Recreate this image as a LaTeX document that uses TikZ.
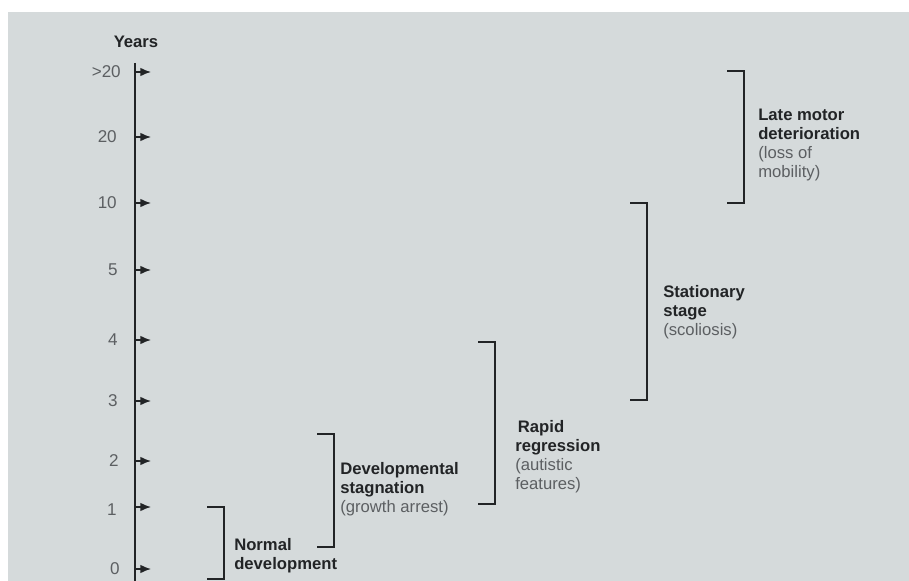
\documentclass[tikz,border=0pt]{standalone}
\usepackage{fontspec}
\setmainfont{Liberation Sans}
\usepackage{xcolor}
\usetikzlibrary{arrows.meta, positioning}
\definecolor{panel}{RGB}{213,218,219}
\definecolor{ink}{RGB}{34,36,38}
\definecolor{soft}{RGB}{92,95,98}

\begin{document}
\begin{tikzpicture}[x=0.75pt, y=-0.75pt]
		\tikzset{
			tick/.style={-{Latex[length=8pt,width=6.5pt]}, line width=1.1pt, ink},
			axisline/.style={line width=1.5pt, ink},
			bracket/.style={line width=1.4pt, ink},
			yearlbl/.style={anchor=east, inner sep=0pt, text=soft, font=\fontsize{12.8}{14}\selectfont},
			phase/.style={anchor=west, align=left, inner sep=0pt, text=ink, font=\fontsize{12.5}{14.2}\selectfont}
		}
		\useasboundingbox (0,0) rectangle (909,581);
		\fill[white] (0,0) rectangle (909,581);
		\fill[panel] (8,12) rectangle (909,581);

		% time axis
		\node[text=ink, font=\fontsize{12.5}{14}\selectfont\bfseries](years) at (136,42){Years};
		\coordinate (axtop) at (135,63);
		\coordinate (axbot) at (135,581);
		\draw[axisline](axtop) -- (axbot);

		\node[yearlbl](ymore) at (121,72){>20};
		\node[yearlbl](ytwenty) at (117,137){20};
		\node[yearlbl](yten) at (117,203){10};
		\node[yearlbl](yfive) at (118,270){5};
		\node[yearlbl](yfour) at (118,340){4};
		\node[yearlbl](ythree) at (118,401){3};
		\node[yearlbl](ytwo) at (119,461){2};
		\node[yearlbl](yone) at (117,510){1};
		\node[yearlbl](yzero) at (120,569){0};

		\coordinate (tmore) at (151,72);
		\coordinate (ttwenty) at (151,137);
		\coordinate (tten) at (151,203);
		\coordinate (tfive) at (151,270);
		\coordinate (tfour) at (151,340);
		\coordinate (tthree) at (151,401);
		\coordinate (ttwo) at (151,461);
		\coordinate (tone) at (151,507);
		\coordinate (tzero) at (151,569);

		\draw[tick](ymore -| axtop) -- (tmore);
		\draw[tick](ttwenty -| axtop) -- (ttwenty);
		\draw[tick](tten -| axtop) -- (tten);
		\draw[tick](tfive -| axtop) -- (tfive);
		\draw[tick](tfour -| axtop) -- (tfour);
		\draw[tick](tthree -| axtop) -- (tthree);
		\draw[tick](ttwo -| axtop) -- (ttwo);
		\draw[tick](tone -| axtop) -- (tone);
		\draw[tick](tzero -| axtop) -- (tzero);

		% stages
		\coordinate (normtop) at (207,507);
		\coordinate (normbot) at (207,579);
		\draw[bracket](normtop) -- ++(17,0) |- (normbot);
		\node[phase](normal) at (234,556){\textbf{Normal}\\\textbf{development}};

		\coordinate (stagtop) at (317,434);
		\coordinate (stagbot) at (317,547);
		\draw[bracket](stagtop) -- ++(17,0) |- (stagbot);
		\node[phase](stagnation) at (340,489){\textbf{Developmental}\\\textbf{stagnation}\\\textcolor{soft}{(growth arrest)}};

		\coordinate (regrtop) at (478,342);
		\coordinate (regrbot) at (478,504);
		\draw[bracket](regrtop) -- ++(17,0) |- (regrbot);
		\node[phase](regression) at (515,457){\hspace{2pt}\textbf{Rapid}\\\textbf{regression}\\\textcolor{soft}{(autistic}\\\textcolor{soft}{features)}};

		\coordinate (stattop) at (630,203);
		\coordinate (statbot) at (630,400);
		\draw[bracket](stattop) -- ++(17,0) |- (statbot);
		\node[phase](stationary) at (663,312){\textbf{Stationary}\\\textbf{stage}\\\textcolor{soft}{(scoliosis)}};

		\coordinate (latetop) at (727,71);
		\coordinate (latebot) at (727,203);
		\draw[bracket](latetop) -- ++(17,0) |- (latebot);
		\node[phase](late) at (758,145){\textbf{Late motor}\\\textbf{deterioration}\\\textcolor{soft}{(loss of}\\\textcolor{soft}{mobility)}};

	\end{tikzpicture}
\end{document}
